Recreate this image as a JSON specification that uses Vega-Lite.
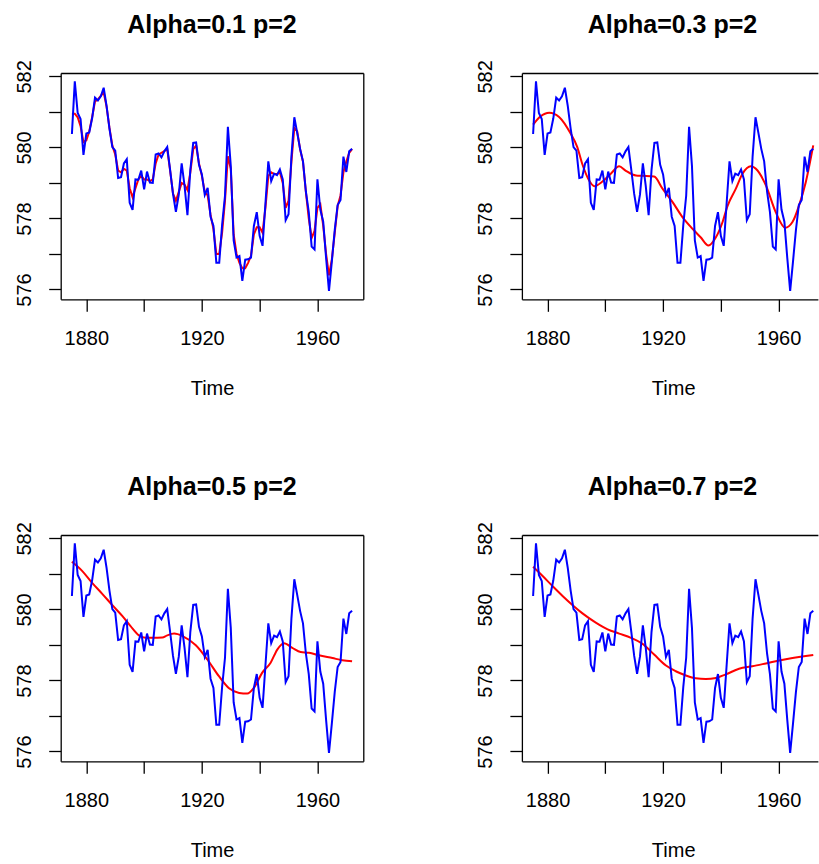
{
  "$schema": "https://vega.github.io/schema/vega-lite/v6.json",
  "padding": {"left": 13.7, "top": 12, "right": 0, "bottom": 0},
  "background": "white",
  "datasets": {
    "huron": [
      {"year":1875,"level":580.38},{"year":1876,"level":581.86},{"year":1877,"level":580.97},{"year":1878,"level":580.80},{"year":1879,"level":579.79},
      {"year":1880,"level":580.39},{"year":1881,"level":580.42},{"year":1882,"level":580.82},{"year":1883,"level":581.40},{"year":1884,"level":581.32},
      {"year":1885,"level":581.44},{"year":1886,"level":581.68},{"year":1887,"level":581.17},{"year":1888,"level":580.53},{"year":1889,"level":580.01},
      {"year":1890,"level":579.91},{"year":1891,"level":579.14},{"year":1892,"level":579.16},{"year":1893,"level":579.55},{"year":1894,"level":579.67},
      {"year":1895,"level":578.44},{"year":1896,"level":578.24},{"year":1897,"level":579.10},{"year":1898,"level":579.09},{"year":1899,"level":579.35},
      {"year":1900,"level":578.82},{"year":1901,"level":579.32},{"year":1902,"level":579.01},{"year":1903,"level":579.00},{"year":1904,"level":579.80},
      {"year":1905,"level":579.83},{"year":1906,"level":579.72},{"year":1907,"level":579.89},{"year":1908,"level":580.01},{"year":1909,"level":579.37},
      {"year":1910,"level":578.69},{"year":1911,"level":578.19},{"year":1912,"level":578.67},{"year":1913,"level":579.55},{"year":1914,"level":578.92},
      {"year":1915,"level":578.09},{"year":1916,"level":579.37},{"year":1917,"level":580.13},{"year":1918,"level":580.14},{"year":1919,"level":579.51},
      {"year":1920,"level":579.24},{"year":1921,"level":578.66},{"year":1922,"level":578.86},{"year":1923,"level":578.05},{"year":1924,"level":577.79},
      {"year":1925,"level":576.75},{"year":1926,"level":576.75},{"year":1927,"level":577.82},{"year":1928,"level":578.64},{"year":1929,"level":580.58},
      {"year":1930,"level":579.48},{"year":1931,"level":577.38},{"year":1932,"level":576.90},{"year":1933,"level":576.94},{"year":1934,"level":576.24},
      {"year":1935,"level":576.84},{"year":1936,"level":576.85},{"year":1937,"level":576.90},{"year":1938,"level":577.79},{"year":1939,"level":578.18},
      {"year":1940,"level":577.51},{"year":1941,"level":577.23},{"year":1942,"level":578.42},{"year":1943,"level":579.61},{"year":1944,"level":579.05},
      {"year":1945,"level":579.26},{"year":1946,"level":579.22},{"year":1947,"level":579.38},{"year":1948,"level":579.10},{"year":1949,"level":577.95},
      {"year":1950,"level":578.12},{"year":1951,"level":579.75},{"year":1952,"level":580.85},{"year":1953,"level":580.41},{"year":1954,"level":579.96},
      {"year":1955,"level":579.61},{"year":1956,"level":578.76},{"year":1957,"level":578.18},{"year":1958,"level":577.21},{"year":1959,"level":577.13},
      {"year":1960,"level":579.10},{"year":1961,"level":578.25},{"year":1962,"level":577.91},{"year":1963,"level":576.89},{"year":1964,"level":575.96},
      {"year":1965,"level":576.80},{"year":1966,"level":577.68},{"year":1967,"level":578.38},{"year":1968,"level":578.52},{"year":1969,"level":579.74},
      {"year":1970,"level":579.31},{"year":1971,"level":579.89},{"year":1972,"level":579.96}
    ],
    "fits": [
      {"p":0.1,"year":1875,"fit":580.95},{"p":0.1,"year":1876,"fit":580.95},{"p":0.1,"year":1877,"fit":580.85},{"p":0.1,"year":1878,"fit":580.6},{"p":0.1,"year":1879,"fit":580.15},
      {"p":0.1,"year":1880,"fit":580.2},{"p":0.1,"year":1881,"fit":580.45},{"p":0.1,"year":1882,"fit":580.85},{"p":0.1,"year":1883,"fit":581.3},{"p":0.1,"year":1884,"fit":581.35},
      {"p":0.1,"year":1885,"fit":581.45},{"p":0.1,"year":1886,"fit":581.55},{"p":0.1,"year":1887,"fit":581.15},{"p":0.1,"year":1888,"fit":580.55},{"p":0.1,"year":1889,"fit":580.05},
      {"p":0.1,"year":1890,"fit":579.8},{"p":0.1,"year":1891,"fit":579.35},{"p":0.1,"year":1892,"fit":579.3},{"p":0.1,"year":1893,"fit":579.4},{"p":0.1,"year":1894,"fit":579.35},
      {"p":0.1,"year":1895,"fit":578.85},{"p":0.1,"year":1896,"fit":578.6},{"p":0.1,"year":1897,"fit":578.85},{"p":0.1,"year":1898,"fit":579.1},{"p":0.1,"year":1899,"fit":579.2},
      {"p":0.1,"year":1900,"fit":579.1},{"p":0.1,"year":1901,"fit":579.1},{"p":0.1,"year":1902,"fit":579.05},{"p":0.1,"year":1903,"fit":579.1},{"p":0.1,"year":1904,"fit":579.55},
      {"p":0.1,"year":1905,"fit":579.8},{"p":0.1,"year":1906,"fit":579.85},{"p":0.1,"year":1907,"fit":579.9},{"p":0.1,"year":1908,"fit":579.95},{"p":0.1,"year":1909,"fit":579.35},
      {"p":0.1,"year":1910,"fit":578.7},{"p":0.1,"year":1911,"fit":578.5},{"p":0.1,"year":1912,"fit":578.75},{"p":0.1,"year":1913,"fit":579.0},{"p":0.1,"year":1914,"fit":578.95},
      {"p":0.1,"year":1915,"fit":578.8},{"p":0.1,"year":1916,"fit":579.3},{"p":0.1,"year":1917,"fit":579.95},{"p":0.1,"year":1918,"fit":580.05},{"p":0.1,"year":1919,"fit":579.55},
      {"p":0.1,"year":1920,"fit":579.2},{"p":0.1,"year":1921,"fit":578.75},{"p":0.1,"year":1922,"fit":578.65},{"p":0.1,"year":1923,"fit":578.1},{"p":0.1,"year":1924,"fit":577.7},
      {"p":0.1,"year":1925,"fit":577.0},{"p":0.1,"year":1926,"fit":577.0},{"p":0.1,"year":1927,"fit":577.6},{"p":0.1,"year":1928,"fit":578.5},{"p":0.1,"year":1929,"fit":579.75},
      {"p":0.1,"year":1930,"fit":579.4},{"p":0.1,"year":1931,"fit":577.55},{"p":0.1,"year":1932,"fit":577.0},{"p":0.1,"year":1933,"fit":576.75},{"p":0.1,"year":1934,"fit":576.6},
      {"p":0.1,"year":1935,"fit":576.6},{"p":0.1,"year":1936,"fit":576.75},{"p":0.1,"year":1937,"fit":576.95},{"p":0.1,"year":1938,"fit":577.55},{"p":0.1,"year":1939,"fit":577.75},
      {"p":0.1,"year":1940,"fit":577.75},{"p":0.1,"year":1941,"fit":577.6},{"p":0.1,"year":1942,"fit":578.3},{"p":0.1,"year":1943,"fit":579.2},{"p":0.1,"year":1944,"fit":579.3},
      {"p":0.1,"year":1945,"fit":579.25},{"p":0.1,"year":1946,"fit":579.25},{"p":0.1,"year":1947,"fit":579.3},{"p":0.1,"year":1948,"fit":579.0},{"p":0.1,"year":1949,"fit":578.3},
      {"p":0.1,"year":1950,"fit":578.5},{"p":0.1,"year":1951,"fit":579.6},{"p":0.1,"year":1952,"fit":580.55},{"p":0.1,"year":1953,"fit":580.45},{"p":0.1,"year":1954,"fit":579.95},
      {"p":0.1,"year":1955,"fit":579.6},{"p":0.1,"year":1956,"fit":578.75},{"p":0.1,"year":1957,"fit":578.0},{"p":0.1,"year":1958,"fit":577.45},{"p":0.1,"year":1959,"fit":577.65},
      {"p":0.1,"year":1960,"fit":578.3},{"p":0.1,"year":1961,"fit":578.4},{"p":0.1,"year":1962,"fit":577.8},{"p":0.1,"year":1963,"fit":577.0},{"p":0.1,"year":1964,"fit":576.4},
      {"p":0.1,"year":1965,"fit":576.85},{"p":0.1,"year":1966,"fit":577.6},{"p":0.1,"year":1967,"fit":578.35},{"p":0.1,"year":1968,"fit":578.65},{"p":0.1,"year":1969,"fit":579.3},
      {"p":0.1,"year":1970,"fit":579.6},{"p":0.1,"year":1971,"fit":579.85},{"p":0.1,"year":1972,"fit":579.95},

      {"p":0.3,"year":1875,"fit":580.64},{"p":0.3,"year":1877.5,"fit":580.87},{"p":0.3,"year":1880.6,"fit":580.98},{"p":0.3,"year":1884,"fit":580.86},{"p":0.3,"year":1888,"fit":580.39},
      {"p":0.3,"year":1890.3,"fit":580.01},{"p":0.3,"year":1892,"fit":579.54},{"p":0.3,"year":1894.4,"fit":579.07},{"p":0.3,"year":1896.2,"fit":578.91},{"p":0.3,"year":1899,"fit":579.04},
      {"p":0.3,"year":1901.9,"fit":579.26},{"p":0.3,"year":1904.8,"fit":579.47},{"p":0.3,"year":1907,"fit":579.35},{"p":0.3,"year":1910.6,"fit":579.21},{"p":0.3,"year":1912.9,"fit":579.2},
      {"p":0.3,"year":1916.9,"fit":579.18},{"p":0.3,"year":1919.8,"fit":578.84},{"p":0.3,"year":1923.3,"fit":578.46},{"p":0.3,"year":1926.7,"fit":578.04},{"p":0.3,"year":1930.2,"fit":577.71},
      {"p":0.3,"year":1933,"fit":577.47},{"p":0.3,"year":1935.7,"fit":577.24},{"p":0.3,"year":1938.3,"fit":577.47},{"p":0.3,"year":1940.6,"fit":577.9},{"p":0.3,"year":1942.3,"fit":578.35},
      {"p":0.3,"year":1945.2,"fit":578.84},{"p":0.3,"year":1947.5,"fit":579.26},{"p":0.3,"year":1950.4,"fit":579.47},{"p":0.3,"year":1952.7,"fit":579.35},{"p":0.3,"year":1955.6,"fit":578.93},
      {"p":0.3,"year":1959,"fit":578.18},{"p":0.3,"year":1962.3,"fit":577.74},{"p":0.3,"year":1964.8,"fit":577.9},{"p":0.3,"year":1967.1,"fit":578.37},{"p":0.3,"year":1969.4,"fit":579.02},
      {"p":0.3,"year":1972,"fit":580.06},

      {"p":0.5,"year":1875,"fit":581.34},{"p":0.5,"year":1878.6,"fit":581.08},{"p":0.5,"year":1882,"fit":580.75},{"p":0.5,"year":1885.5,"fit":580.44},{"p":0.5,"year":1889,"fit":580.12},
      {"p":0.5,"year":1892.5,"fit":579.81},{"p":0.5,"year":1895.3,"fit":579.53},{"p":0.5,"year":1898.2,"fit":579.27},{"p":0.5,"year":1900.5,"fit":579.2},{"p":0.5,"year":1903,"fit":579.2},
      {"p":0.5,"year":1906.3,"fit":579.21},{"p":0.5,"year":1908,"fit":579.27},{"p":0.5,"year":1910.4,"fit":579.32},{"p":0.5,"year":1913.3,"fit":579.25},{"p":0.5,"year":1917.9,"fit":578.99},
      {"p":0.5,"year":1921.9,"fit":578.59},{"p":0.5,"year":1925.9,"fit":578.12},{"p":0.5,"year":1929.4,"fit":577.78},{"p":0.5,"year":1932.9,"fit":577.65},{"p":0.5,"year":1935.7,"fit":577.63},
      {"p":0.5,"year":1938,"fit":577.79},{"p":0.5,"year":1940.9,"fit":578.22},{"p":0.5,"year":1943.8,"fit":578.5},{"p":0.5,"year":1946.1,"fit":578.87},{"p":0.5,"year":1948.4,"fit":579.05},
      {"p":0.5,"year":1951.3,"fit":578.92},{"p":0.5,"year":1954.2,"fit":578.8},{"p":0.5,"year":1957.1,"fit":578.78},{"p":0.5,"year":1960.5,"fit":578.71},{"p":0.5,"year":1965.2,"fit":578.63},
      {"p":0.5,"year":1968.6,"fit":578.57},{"p":0.5,"year":1972,"fit":578.54},

      {"p":0.7,"year":1875,"fit":581.2},{"p":0.7,"year":1878.3,"fit":580.94},{"p":0.7,"year":1881.7,"fit":580.66},{"p":0.7,"year":1885.2,"fit":580.38},{"p":0.7,"year":1888.7,"fit":580.12},
      {"p":0.7,"year":1892.1,"fit":579.89},{"p":0.7,"year":1896.7,"fit":579.63},{"p":0.7,"year":1900.8,"fit":579.44},{"p":0.7,"year":1904.8,"fit":579.32},{"p":0.7,"year":1908.9,"fit":579.2},
      {"p":0.7,"year":1912.9,"fit":579.03},{"p":0.7,"year":1916.9,"fit":578.73},{"p":0.7,"year":1921,"fit":578.42},{"p":0.7,"year":1924.4,"fit":578.26},{"p":0.7,"year":1927.9,"fit":578.14},
      {"p":0.7,"year":1931.3,"fit":578.06},{"p":0.7,"year":1934.8,"fit":578.04},{"p":0.7,"year":1938.3,"fit":578.07},{"p":0.7,"year":1941.7,"fit":578.17},{"p":0.7,"year":1946.3,"fit":578.33},
      {"p":0.7,"year":1950.9,"fit":578.4},{"p":0.7,"year":1955.6,"fit":578.48},{"p":0.7,"year":1960.2,"fit":578.56},{"p":0.7,"year":1964.8,"fit":578.63},{"p":0.7,"year":1969.4,"fit":578.69},
      {"p":0.7,"year":1972,"fit":578.72}
    ]
  },
  "columns": 2,
  "spacing": {"row": 235, "column": 158.2},
  "bounds": "flush",
  "concat": [
    {
      "width": 302.6, "height": 226.3,
      "title": {"text": "Alpha=0.1 p=2"},
      "resolve": {"axis": {"x": "independent", "y": "independent"}},
      "layer": [
        {
          "data": {"name": "fits"},
          "transform": [{"filter": "datum.p == 0.1"}],
          "mark": {"type": "line", "color": "#FF0000", "strokeWidth": 2},
          "encoding": {
            "x": {"field": "year", "type": "quantitative", "scale": {"domain": [1871.12, 1975.88], "nice": false, "zero": false},
                  "axis": {"orient": "bottom", "values": [1880, 1900, 1920, 1940, 1960], "format": "d", "labelExpr": "datum.value % 40 == 0 ? datum.label : ''", "title": "Time"}},
            "y": {"field": "fit", "type": "quantitative", "scale": {"domain": [575.724, 582.096], "nice": false, "zero": false},
                  "axis": {"orient": "left", "values": [576, 577, 578, 579, 580, 581, 582], "labelExpr": "datum.value % 2 == 0 ? datum.label : ''", "title": null}}
          }
        },
        {
          "data": {"name": "huron"},
          "mark": {"type": "line", "color": "#0000FF", "strokeWidth": 2},
          "encoding": {
            "x": {"field": "year", "type": "quantitative", "scale": {"domain": [1871.12, 1975.88], "nice": false, "zero": false},
                  "axis": {"orient": "top", "labels": false, "ticks": false, "title": null}},
            "y": {"field": "level", "type": "quantitative", "scale": {"domain": [575.724, 582.096], "nice": false, "zero": false},
                  "axis": {"orient": "right", "labels": false, "ticks": false, "title": null}}
          }
        }
      ]
    },
    {
      "width": 296, "height": 226.3,
      "title": {"text": "Alpha=0.3 p=2", "dx": 2.6},
      "resolve": {"axis": {"x": "independent", "y": "independent"}},
      "layer": [
        {
          "data": {"name": "fits"},
          "transform": [{"filter": "datum.p == 0.3"}],
          "mark": {"type": "line", "color": "#FF0000", "strokeWidth": 2, "interpolate": "monotone"},
          "encoding": {
            "x": {"field": "year", "type": "quantitative", "scale": {"domain": [1871.12, 1973.6], "nice": false, "zero": false},
                  "axis": {"orient": "bottom", "values": [1880, 1900, 1920, 1940, 1960], "format": "d", "labelExpr": "datum.value % 40 == 0 ? datum.label : ''", "title": "Time", "titleX": 151.3}},
            "y": {"field": "fit", "type": "quantitative", "scale": {"domain": [575.724, 582.096], "nice": false, "zero": false},
                  "axis": {"orient": "left", "values": [576, 577, 578, 579, 580, 581, 582], "labelExpr": "datum.value % 2 == 0 ? datum.label : ''", "title": null}}
          }
        },
        {
          "data": {"name": "huron"},
          "mark": {"type": "line", "color": "#0000FF", "strokeWidth": 2},
          "encoding": {
            "x": {"field": "year", "type": "quantitative", "scale": {"domain": [1871.12, 1973.6], "nice": false, "zero": false},
                  "axis": {"orient": "top", "labels": false, "ticks": false, "title": null}},
            "y": {"field": "level", "type": "quantitative", "scale": {"domain": [575.724, 582.096], "nice": false, "zero": false}, "axis": null}
          }
        }
      ]
    },
    {
      "width": 302.6, "height": 226.3,
      "title": {"text": "Alpha=0.5 p=2"},
      "resolve": {"axis": {"x": "independent", "y": "independent"}},
      "layer": [
        {
          "data": {"name": "fits"},
          "transform": [{"filter": "datum.p == 0.5"}],
          "mark": {"type": "line", "color": "#FF0000", "strokeWidth": 2, "interpolate": "monotone"},
          "encoding": {
            "x": {"field": "year", "type": "quantitative", "scale": {"domain": [1871.12, 1975.88], "nice": false, "zero": false},
                  "axis": {"orient": "bottom", "values": [1880, 1900, 1920, 1940, 1960], "format": "d", "labelExpr": "datum.value % 40 == 0 ? datum.label : ''", "title": "Time"}},
            "y": {"field": "fit", "type": "quantitative", "scale": {"domain": [575.724, 582.096], "nice": false, "zero": false},
                  "axis": {"orient": "left", "values": [576, 577, 578, 579, 580, 581, 582], "labelExpr": "datum.value % 2 == 0 ? datum.label : ''", "title": null}}
          }
        },
        {
          "data": {"name": "huron"},
          "mark": {"type": "line", "color": "#0000FF", "strokeWidth": 2},
          "encoding": {
            "x": {"field": "year", "type": "quantitative", "scale": {"domain": [1871.12, 1975.88], "nice": false, "zero": false},
                  "axis": {"orient": "top", "labels": false, "ticks": false, "title": null}},
            "y": {"field": "level", "type": "quantitative", "scale": {"domain": [575.724, 582.096], "nice": false, "zero": false},
                  "axis": {"orient": "right", "labels": false, "ticks": false, "title": null}}
          }
        }
      ]
    },
    {
      "width": 296, "height": 226.3,
      "title": {"text": "Alpha=0.7 p=2", "dx": 2.6},
      "resolve": {"axis": {"x": "independent", "y": "independent"}},
      "layer": [
        {
          "data": {"name": "fits"},
          "transform": [{"filter": "datum.p == 0.7"}],
          "mark": {"type": "line", "color": "#FF0000", "strokeWidth": 2, "interpolate": "monotone"},
          "encoding": {
            "x": {"field": "year", "type": "quantitative", "scale": {"domain": [1871.12, 1973.6], "nice": false, "zero": false},
                  "axis": {"orient": "bottom", "values": [1880, 1900, 1920, 1940, 1960], "format": "d", "labelExpr": "datum.value % 40 == 0 ? datum.label : ''", "title": "Time", "titleX": 151.3}},
            "y": {"field": "fit", "type": "quantitative", "scale": {"domain": [575.724, 582.096], "nice": false, "zero": false},
                  "axis": {"orient": "left", "values": [576, 577, 578, 579, 580, 581, 582], "labelExpr": "datum.value % 2 == 0 ? datum.label : ''", "title": null}}
          }
        },
        {
          "data": {"name": "huron"},
          "mark": {"type": "line", "color": "#0000FF", "strokeWidth": 2},
          "encoding": {
            "x": {"field": "year", "type": "quantitative", "scale": {"domain": [1871.12, 1973.6], "nice": false, "zero": false},
                  "axis": {"orient": "top", "labels": false, "ticks": false, "title": null}},
            "y": {"field": "level", "type": "quantitative", "scale": {"domain": [575.724, 582.096], "nice": false, "zero": false}, "axis": null}
          }
        }
      ]
    }
  ],
  "config": {
    "font": "Liberation Sans",
    "view": {"stroke": null},
    "axis": {
      "grid": false, "domain": true, "domainColor": "black", "domainWidth": 1.3,
      "tickColor": "black", "tickWidth": 1.3, "tickSize": 12,
      "labelColor": "black", "labelFontSize": 20, "labelFont": "Liberation Sans",
      "labelOverlap": false, "labelFlush": false,
      "titleFont": "Liberation Sans", "titleFontSize": 20, "titleFontWeight": "normal", "titleColor": "black"
    },
    "axisX": {"labelPadding": 17.5, "titlePadding": 30},
    "axisY": {"labelAngle": -90, "labelAlign": "center", "labelBaseline": "alphabetic", "labelPadding": 18.5},
    "title": {"fontSize": 25, "fontWeight": "bold", "font": "Liberation Sans", "color": "black", "anchor": "middle", "frame": "group", "baseline": "alphabetic", "offset": 22}
  }
}
